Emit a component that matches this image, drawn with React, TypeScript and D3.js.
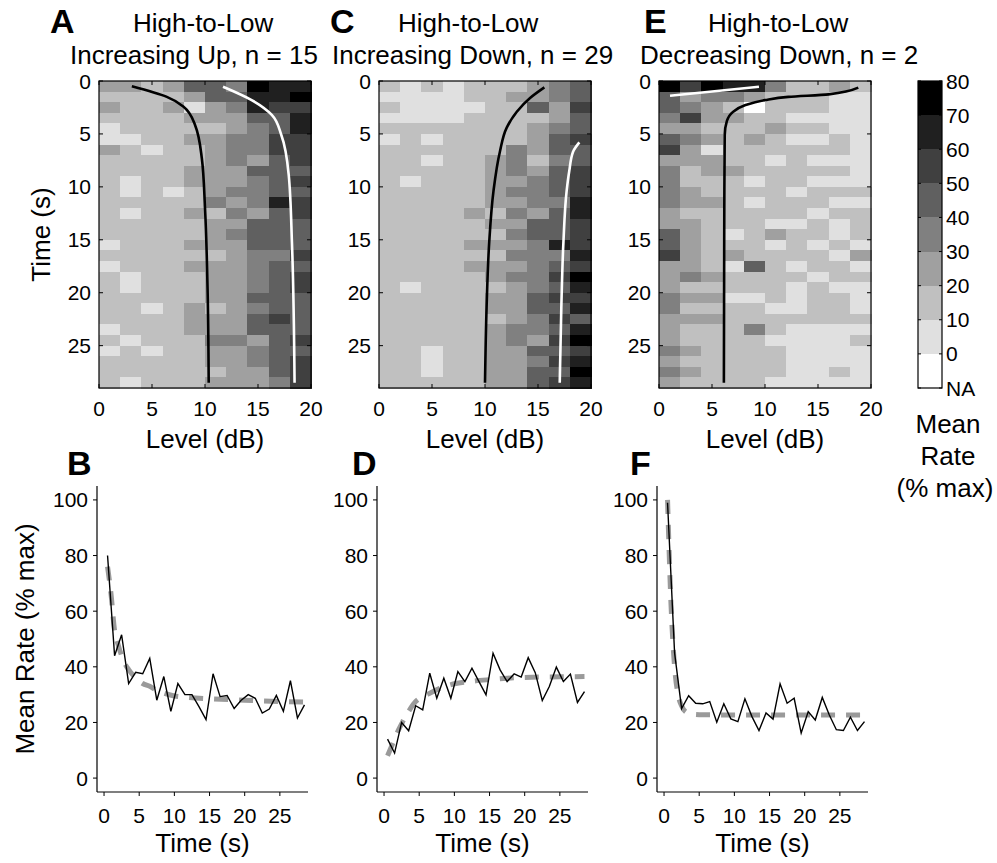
import React from "react";
import * as d3 from "d3";

// ---------- data ----------
const levelTicks = [0, 5, 10, 15, 20];
const timeTicks = [0, 5, 10, 15, 20, 25];
const rateTicks = [0, 20, 40, 60, 80, 100];
const lineTimeTicks = [0, 5, 10, 15, 20, 25];
const colorbarLabels = ["NA", "0", "10", "20", "30", "40", "50", "60", "70", "80"];
const grayBins = [10, 20, 30, 40, 50, 60, 70];
const grayColors = ["#e0e0e0", "#c0c0c0", "#a0a0a0", "#808080", "#606060", "#404040", "#202020", "#000000"];

// heatmap cells: rows = 1 s time bins (0..29 s), cols = 2 dB level bins (0..20 dB)
// digit k: 0 = NA, else mean rate in bin ((k-1)*10 .. k*10) % max
const heatA = [
  "3323554877", "2222355778", "3223134766", "2222333557", "1222223457",
  "1122334466", "3212234466", "2222234356", "2222333555", "2122333456",
  "2121234455", "2222243476", "2122324356", "2222233555", "2222234555",
  "1222333555", "2222223446", "1222333455", "2122233456", "2122233456",
  "2222233555", "2212323455", "2222333565", "1222333555", "2122244356",
  "1212233455", "2222233456", "2222223356", "2122233346",
];
const heatC = [
  "2121222345", "1111223345", "2111122536", "1111222235", "2222222345",
  "1212222356", "2222224355", "2212234245", "2222234356", "2122233456",
  "2222234456", "2222233447", "2222324357", "2222233556", "2222224556",
  "2222333476", "2222224447", "2222333456", "2222234468", "2122223457",
  "2222233566", "2222233557", "2222223465", "2222234457", "2222234368",
  "2212233556", "2212233467", "2212233558", "2222233567",
];
const heatE = [
  "8687742232", "5344322211", "5432022211", "4633221111", "3322232211",
  "5432321121", "6312222221", "3332212111", "4233222221", "4222122111",
  "4322221222", "4332122211", "3222222122", "3322211212", "5321232212",
  "5322212121", "6323222213", "3321521221", "3432222122", "3222221211",
  "4331121221", "4222211221", "3332222222", "3222421111", "3222211112",
  "4322221111", "3222221111", "4322221121", "3222211111",
];

// fitted curves overlaid on heatmaps (time s, level dB)
const curveABlackT = [0.5, 1.5, 2.4, 4.15, 7.3, 12, 20, 28.5];
const curveABlackL = [3.1, 6.4, 7.95, 9.06, 9.7, 10.0, 10.25, 10.35];
const curveAWhiteT = [0.54, 1.8, 3.2, 5.1, 8.9, 15.2, 28.5];
const curveAWhiteL = [11.7, 14.4, 16.3, 17.2, 17.9, 18.2, 18.45];
const curveCBlackT = [0.6, 1.6, 2.9, 4.4, 6.7, 10.4, 15.2, 21.4, 28.5];
const curveCBlackL = [15.6, 14.25, 13.0, 12.05, 11.4, 10.8, 10.4, 10.15, 10.0];
const curveCWhiteT = [5.8, 6.7, 8.5, 10.4, 15.2, 21.4, 28.5];
const curveCWhiteL = [18.9, 18.3, 17.95, 17.7, 17.4, 17.2, 17.05];
const curveEBlackT = [0.63, 1.26, 1.5, 1.8, 2.3, 2.9, 3.8, 5.1, 12, 28.5];
const curveEBlackL = [18.8, 16.0, 12.2, 10.0, 8.1, 7.0, 6.4, 6.2, 6.16, 6.12];
const curveEWhiteT = [1.4, 0.54];
const curveEWhiteL = [1.04, 9.43];

// mean rate vs time
const rateTimes = [0.5, 1.5, 2.5, 3.5, 4.5, 5.5, 6.5, 7.5, 8.5, 9.5, 10.5, 11.5, 12.5, 13.5, 14.5,
  15.5, 16.5, 17.5, 18.5, 19.5, 20.5, 21.5, 22.5, 23.5, 24.5, 25.5, 26.5, 27.5, 28.5];
const rateB = [80, 44, 51.5, 34, 38, 37.5, 43, 28, 36.5, 24, 34, 30, 30, 25.7, 21, 37.5, 29.3, 29.7,
  25, 28, 30, 28.7, 23.4, 24.8, 29.7, 24, 35, 21.6, 26.3];
const rateD = [14, 9, 20, 17, 26, 24.5, 37.7, 28.7, 35.9, 28.7, 38.3, 34.7, 39.5, 34.7, 29.9, 44.9,
  38.9, 34.7, 37.5, 36.3, 43.3, 37.9, 27.9, 32.9, 39.9, 34.7, 37.4, 27.2, 31.1];
const rateF = [99, 45, 25, 29.6, 26.9, 26.7, 27.5, 20.1, 26.7, 21.3, 20.3, 28.5, 22.1, 17.1, 23.4,
  21.2, 33.9, 26.9, 28.7, 16.2, 23.9, 20.9, 29.0, 22.7, 17.4, 17.1, 21.9, 17.1, 20.3];

const fitBT = [0.5, 1, 1.5, 2, 2.5, 3, 3.5, 4.5, 5.5, 6.5, 7.5, 8.5, 10, 12, 15, 20, 25, 28.5];
const fitBV = [76, 66, 53, 48, 44, 41, 39, 36, 34, 33, 31.5, 30.5, 29.5, 29, 28.5, 28, 27.5, 27.3];
const fitDT = [0.5, 1, 1.5, 2, 2.5, 3, 3.5, 4.5, 5.5, 6.5, 8, 10, 12.5, 15, 17.5, 20, 25, 28.5];
const fitDV = [8, 11, 14, 17, 19.5, 22, 24, 27.5, 29.3, 30.5, 32.3, 33.9, 34.8, 35.4, 35.9, 36.2, 36.4, 36.5];
const fitFT = [0.5, 1, 1.5, 2, 2.5, 3, 4, 5, 10, 20, 28.5];
const fitFV = [100, 62, 40, 30, 26, 24, 23, 22.8, 22.7, 22.7, 22.7];

// ---------- layout ----------
const W = 997, H = 863;
const FONT = "'Liberation Sans', Arial, Helvetica, sans-serif";
const HM_W = 212, HM_TOP = 81, HM_BOTTOM = 388;
const LP_W = 211, LP_TOP = 486, LP_BOTTOM = 792;

const cellColor = d3.scaleThreshold<number, string>().domain(grayBins).range(grayColors);
const codeToRate = (k: number) => (k === 0 ? NaN : (k - 1) * 10 + 5);

type CurveSpec = { t: number[]; l: number[]; color: string; linear?: boolean };

function Heatmap({ left, rows, curves, showYLabel, letter, letterX, line1X, line2, line2X }: any) {
  const x = d3.scaleLinear().domain([0, 20]).range([left, left + HM_W]);
  const y = d3.scaleLinear().domain([0, 29]).range([HM_TOP, HM_BOTTOM]);
  const cells: any[] = [];
  rows.forEach((row: string, ri: number) => {
    row.split("").forEach((ch, ci) => {
      const v = codeToRate(+ch);
      cells.push(
        <rect key={`${ri}-${ci}`} x={x(ci * 2)} y={y(ri)} width={x(2) - x(0) + 0.5} height={y(1) - y(0) + 0.5}
          fill={isNaN(v) ? "#ffffff" : cellColor(v)} shapeRendering="crispEdges" />
      );
    });
  });
  const tk = 4;
  return (
    <g>
      {cells}
      {curves.map((c: CurveSpec, i: number) => {
        const pts = c.t.map((t, j) => [c.l[j], t] as [number, number]);
        const gen = d3.line<[number, number]>().x(d => x(d[0])).y(d => y(d[1]))
          .curve(c.linear ? d3.curveLinear : d3.curveMonotoneY);
        return <path key={i} d={gen(pts) || ""} fill="none" stroke={c.color} strokeWidth={2.6} />;
      })}
      <rect x={left} y={HM_TOP} width={HM_W} height={HM_BOTTOM - HM_TOP} fill="none" stroke="#000" strokeWidth={1.2} />
      {levelTicks.map(v => (
        <g key={"xt" + v}>
          <line x1={x(v)} x2={x(v)} y1={HM_BOTTOM} y2={HM_BOTTOM - tk} stroke="#000" />
          <line x1={x(v)} x2={x(v)} y1={HM_TOP} y2={HM_TOP + tk} stroke="#000" />
          <text x={x(v)} y={HM_BOTTOM + 28} textAnchor="middle" fontSize={21} fontFamily={FONT}>{v}</text>
        </g>
      ))}
      {timeTicks.map(v => (
        <g key={"yt" + v}>
          <line x1={left} x2={left + tk} y1={y(v)} y2={y(v)} stroke="#000" />
          <line x1={left + HM_W} x2={left + HM_W - tk} y1={y(v)} y2={y(v)} stroke="#000" />
          <text x={left - 8} y={y(v) + 7.5} textAnchor="end" fontSize={21} fontFamily={FONT}>{v}</text>
        </g>
      ))}
      <text x={left + HM_W / 2} y={448} textAnchor="middle" fontSize={26} fontFamily={FONT}>Level (dB)</text>
      {showYLabel && (
        <text transform={`translate(50,${(HM_TOP + HM_BOTTOM) / 2}) rotate(-90)`} textAnchor="middle" fontSize={26} fontFamily={FONT}>Time (s)</text>
      )}
      <text x={letterX} y={33} fontSize={34} fontWeight="bold" fontFamily={FONT}>{letter}</text>
      <text x={line1X} y={32} fontSize={26} fontFamily={FONT}>High-to-Low</text>
      <text x={line2X} y={64} fontSize={26} fontFamily={FONT}>{line2}</text>
    </g>
  );
}

function RatePlot({ left, values, fitT, fitV, letter, letterX, showYLabel }: any) {
  const x = d3.scaleLinear().domain([-1, 29]).range([left, left + LP_W]);
  const y = d3.scaleLinear().domain([-5, 105]).range([LP_BOTTOM, LP_TOP]);
  const line = d3.line<[number, number]>().x(d => x(d[0])).y(d => y(d[1]));
  const fitLine = d3.line<[number, number]>().x(d => x(d[0])).y(d => y(d[1])).curve(d3.curveMonotoneX);
  const data = rateTimes.map((t, i) => [t, values[i]] as [number, number]);
  const fit = fitT.map((t: number, i: number) => [t, fitV[i]] as [number, number]);
  const tk = 4;
  return (
    <g>
      <path d={fitLine(fit) || ""} fill="none" stroke="#9a9a9a" strokeWidth={5} strokeDasharray="14,11" />
      <path d={line(data) || ""} fill="none" stroke="#000" strokeWidth={1.4} strokeLinejoin="miter" />
      <line x1={left} x2={left} y1={LP_TOP} y2={LP_BOTTOM} stroke="#000" strokeWidth={1.2} />
      <line x1={left} x2={left + LP_W} y1={LP_BOTTOM} y2={LP_BOTTOM} stroke="#000" strokeWidth={1.2} />
      {rateTicks.map(v => (
        <g key={"ry" + v}>
          <line x1={left} x2={left - tk} y1={y(v)} y2={y(v)} stroke="#000" />
          <text x={left - 9} y={y(v) + 7.5} textAnchor="end" fontSize={21} fontFamily={FONT}>{v}</text>
        </g>
      ))}
      {lineTimeTicks.map(v => (
        <g key={"rx" + v}>
          <line x1={x(v)} x2={x(v)} y1={LP_BOTTOM} y2={LP_BOTTOM + tk} stroke="#000" />
          <text x={x(v)} y={823} textAnchor="middle" fontSize={21} fontFamily={FONT}>{v}</text>
        </g>
      ))}
      <text x={left + LP_W / 2} y={852} textAnchor="middle" fontSize={26} fontFamily={FONT}>Time (s)</text>
      {showYLabel && (
        <text transform={`translate(34,${(LP_TOP + LP_BOTTOM) / 2}) rotate(-90)`} textAnchor="middle" fontSize={26} fontFamily={FONT}>Mean Rate (% max)</text>
      )}
      <text x={letterX} y={475} fontSize={34} fontWeight="bold" fontFamily={FONT}>{letter}</text>
    </g>
  );
}

function Colorbar() {
  const cbX = 918, cbW = 24;
  const y = d3.scaleLinear().domain([0, colorbarLabels.length - 1]).range([HM_BOTTOM, HM_TOP]);
  const bandColors = ["#ffffff", ...grayColors];
  return (
    <g>
      {bandColors.map((c, i) => (
        <rect key={i} x={cbX} y={y(i + 1)} width={cbW} height={y(i) - y(i + 1)} fill={c} shapeRendering="crispEdges" />
      ))}
      <rect x={cbX} y={HM_TOP} width={cbW} height={HM_BOTTOM - HM_TOP} fill="none" stroke="#000" strokeWidth={1.2} />
      {colorbarLabels.map((lab, i) => (
        <g key={lab}>
          <line x1={cbX} x2={cbX + 3} y1={y(i)} y2={y(i)} stroke="#000" />
          <line x1={cbX + cbW} x2={cbX + cbW - 3} y1={y(i)} y2={y(i)} stroke="#000" />
          <text x={946} y={y(i) + 7.5} fontSize={21} fontFamily={FONT}>{lab}</text>
        </g>
      ))}
      <text x={948} y={433} textAnchor="middle" fontSize={26} fontFamily={FONT}>Mean</text>
      <text x={948} y={465} textAnchor="middle" fontSize={26} fontFamily={FONT}>Rate</text>
      <text x={945} y={497} textAnchor="middle" fontSize={26} fontFamily={FONT}>(% max)</text>
    </g>
  );
}

export default function App() {
  return (
    <svg width={W} height={H} style={{ position: "absolute", left: 0, top: 0, background: "#fff" }}>
      <rect width={W} height={H} fill="#fff" />
      <Heatmap left={99} rows={heatA} showYLabel letter="A" letterX={50} line1X={133} line2="Increasing Up, n = 15" line2X={70}
        curves={[{ t: curveABlackT, l: curveABlackL, color: "#000" }, { t: curveAWhiteT, l: curveAWhiteL, color: "#fff" }]} />
      <Heatmap left={379} rows={heatC} letter="C" letterX={330} line1X={398} line2="Increasing Down, n = 29" line2X={332}
        curves={[{ t: curveCBlackT, l: curveCBlackL, color: "#000" }, { t: curveCWhiteT, l: curveCWhiteL, color: "#fff" }]} />
      <Heatmap left={659} rows={heatE} letter="E" letterX={644} line1X={708} line2="Decreasing Down, n = 2" line2X={640}
        curves={[{ t: curveEBlackT, l: curveEBlackL, color: "#000" }, { t: curveEWhiteT, l: curveEWhiteL, color: "#fff", linear: true }]} />
      <Colorbar />
      <RatePlot left={97} values={rateB} fitT={fitBT} fitV={fitBV} letter="B" letterX={67} showYLabel />
      <RatePlot left={377} values={rateD} fitT={fitDT} fitV={fitDV} letter="D" letterX={352} />
      <RatePlot left={657} values={rateF} fitT={fitFT} fitV={fitFV} letter="F" letterX={630} />
    </svg>
  );
}
